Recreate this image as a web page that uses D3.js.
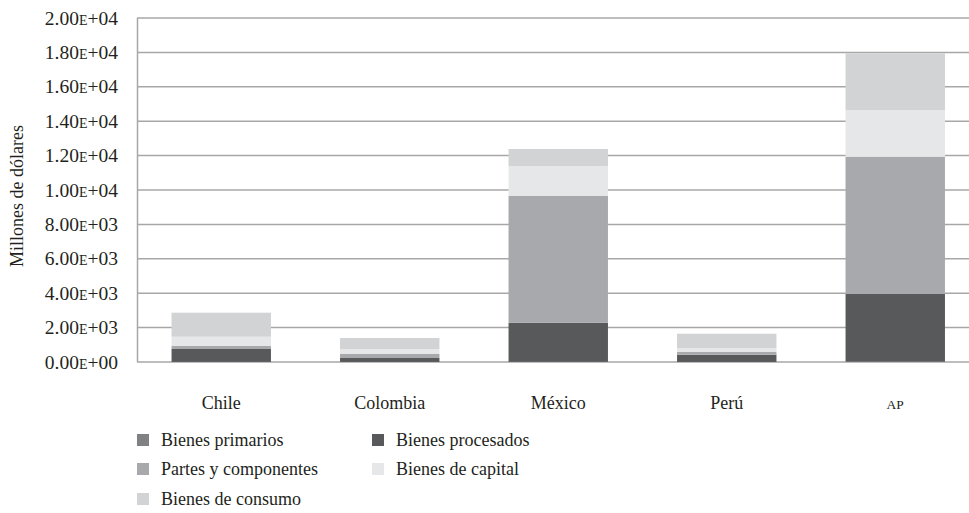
<!DOCTYPE html>
<html>
<head>
<meta charset="utf-8">
<script src="https://cdn.jsdelivr.net/npm/d3@7"></script>
<style>
  html, body { margin: 0; padding: 0; background: #fff; }
  svg text { font-family: "Liberation Serif", "Times New Roman", Times, "DejaVu Serif", serif; }
</style>
</head>
<body>
<svg id="chart" width="969" height="513"></svg>
<script>
// Categories (x axis)
const categories = ["Chile", "Colombia", "México", "Perú", "AP"];

// Series, millions of dollars, stacked bottom to top
const seriesNames = ["Bienes primarios", "Bienes procesados", "Partes y componentes", "Bienes de capital", "Bienes de consumo"];
const bienesPrimarios    = [5, 3, 8, 2, 18];
const bienesProcesados   = [751, 230, 2277, 422, 3935];
const partesComponentes  = [174, 250, 7384, 175, 7983];
const bienesCapital      = [541, 273, 1726, 215, 2714];
const bienesConsumo      = [1395, 639, 989, 831, 3298];

// Y axis ticks
const yTicks = [0, 2000, 4000, 6000, 8000, 10000, 12000, 14000, 16000, 18000, 20000];

const colors = ["#808184", "#58595b", "#a7a9ac", "#e6e7e8", "#d1d3d4"];
const textColor = "#231f20";
const fontFamily = '"Liberation Serif", "Times New Roman", Times, serif';

const seriesValues = [bienesPrimarios, bienesProcesados, partesComponentes, bienesCapital, bienesConsumo];
const table = categories.map((c, i) => {
  const row = { cat: c };
  seriesNames.forEach((s, j) => row[s] = seriesValues[j][i]);
  return row;
});

const svg = d3.select("#chart");

const x = d3.scaleBand().domain(categories).range([137, 979.5]).paddingInner(0.41).paddingOuter(0.205);
const y = d3.scaleLinear().domain([0, 20000]).range([362, 18]);

// Gridlines
svg.append("g")
  .selectAll("line")
  .data(yTicks)
  .join("line")
  .attr("x1", 137).attr("x2", 969)
  .attr("y1", d => y(d)).attr("y2", d => y(d))
  .attr("stroke", "#a7a7a7").attr("stroke-width", 1.5);

// Left axis line
svg.append("line")
  .attr("x1", 137.5).attr("x2", 137.5)
  .attr("y1", y(20000)).attr("y2", y(0))
  .attr("stroke", "#a7a7a7").attr("stroke-width", 1.5);

// Stacked bars
const stack = d3.stack().keys(seriesNames)(table);
svg.append("g")
  .selectAll("g")
  .data(stack)
  .join("g")
  .attr("fill", (d, i) => colors[i])
  .selectAll("rect")
  .data(d => d)
  .join("rect")
  .attr("x", d => x(d.data.cat))
  .attr("width", x.bandwidth())
  .attr("y", d => y(d[1]))
  .attr("height", d => y(d[0]) - y(d[1]));

// Y tick labels: mantissa + small-caps exponent marker
const fmt = d3.format(".2e");
const yLab = svg.append("g").attr("fill", textColor).attr("font-size", 19.5).attr("font-family", fontFamily);
yTicks.forEach(v => {
  const [mant, exp] = fmt(v).split("e");
  const sign = exp[0];
  const digits = exp.slice(1).padStart(2, "0");
  const t = yLab.append("text")
    .attr("x", 118)
    .attr("y", y(v) + 6.5)
    .attr("text-anchor", "end");
  t.append("tspan").text(mant);
  t.append("tspan").attr("font-size", 14).text("E");
  t.append("tspan").text(sign + digits);
});

// Y axis title
svg.append("text")
  .attr("transform", "translate(23,196) rotate(-90)")
  .attr("text-anchor", "middle")
  .attr("fill", textColor)
  .attr("font-family", fontFamily)
  .attr("font-size", 18)
  .text("Millones de dólares");

// X labels
svg.append("g")
  .attr("font-family", fontFamily)
  .selectAll("text")
  .data(categories)
  .join("text")
  .attr("x", d => x(d) + x.bandwidth() / 2)
  .attr("y", 409)
  .attr("text-anchor", "middle")
  .attr("fill", textColor)
  .attr("font-size", d => d === "AP" ? 13.5 : 18)
  .text(d => d);

// Legend
const legendPos = [
  { x: 137, y: 440 }, { x: 372, y: 440 },
  { x: 137, y: 469 }, { x: 372, y: 469 },
  { x: 137, y: 499 }
];
const leg = svg.append("g").attr("font-family", fontFamily);
seriesNames.forEach((s, i) => {
  const p = legendPos[i];
  leg.append("rect")
    .attr("x", p.x).attr("y", p.y - 6)
    .attr("width", 12).attr("height", 12)
    .attr("fill", colors[i]);
  leg.append("text")
    .attr("x", p.x + 24).attr("y", p.y + 6)
    .attr("fill", textColor)
    .attr("font-size", 18)
    .text(s);
});
</script>
</body>
</html>
